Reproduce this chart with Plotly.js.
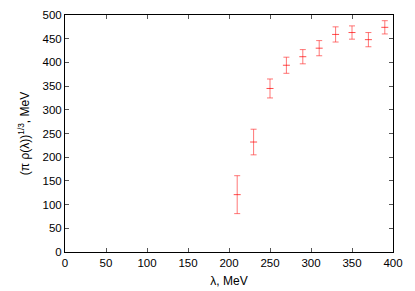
<!DOCTYPE html>
<html><head><meta charset="utf-8">
<script src="https://cdn.plot.ly/plotly-3.0.1.min.js"></script>
<style>html,body{margin:0;padding:0;background:#fff}#c{width:415px;height:291px}</style>
</head><body><div id="c"></div>
<script>
var lambda = [210, 230, 250, 270, 290, 310, 330, 350, 370, 390];
var value = [121, 232, 345, 394, 412, 430, 459, 463, 448, 474];
var error = [40, 27, 20, 17, 15, 16, 16, 14, 15, 14];
var xTicks = [0, 50, 100, 150, 200, 250, 300, 350, 400];
var yTicks = [0, 50, 100, 150, 200, 250, 300, 350, 400, 450, 500];

var trace = {
  x: lambda, y: value, type: 'scatter', mode: 'markers',
  marker: {symbol: 'line-ew', size: 5, line: {color: 'rgba(255,0,0,0.7)', width: 1}},
  error_y: {type: 'data', array: error, visible: true, color: 'rgba(255,60,60,0.7)', thickness: 1, width: 3},
  showlegend: false
};
var font = {family: 'Liberation Sans, Arial, sans-serif', size: 11.5, color: '#000'};
var tfont = {family: 'Liberation Sans, Arial, sans-serif', size: 12, color: '#000'};
var layout = {
  width: 415, height: 291,
  margin: {l: 65, r: 22, t: 15, b: 39},
  paper_bgcolor: '#fff', plot_bgcolor: '#fff',
  font: font,
  xaxis: {
    range: [0, 400], tickvals: xTicks, ticktext: xTicks.map(String),
    ticks: 'inside', ticklen: 4, tickcolor: '#555', mirror: 'ticks',
    showline: true, linecolor: '#000', linewidth: 1, showgrid: false, zeroline: false,
    tickfont: font,
    title: {text: 'λ, MeV', font: tfont, standoff: 8}
  },
  yaxis: {
    range: [0, 500], tickvals: yTicks, ticktext: yTicks.map(String),
    ticks: 'inside', ticklen: 4, tickcolor: '#555', mirror: 'ticks',
    showline: true, linecolor: '#000', linewidth: 1, showgrid: false, zeroline: false,
    tickfont: font,
    title: {text: '(π ρ(λ))<sup>1/3</sup>, MeV', font: tfont, standoff: 10}
  }
};
Plotly.newPlot('c', [trace], layout, {staticPlot: true, displayModeBar: false});
</script></body></html>
